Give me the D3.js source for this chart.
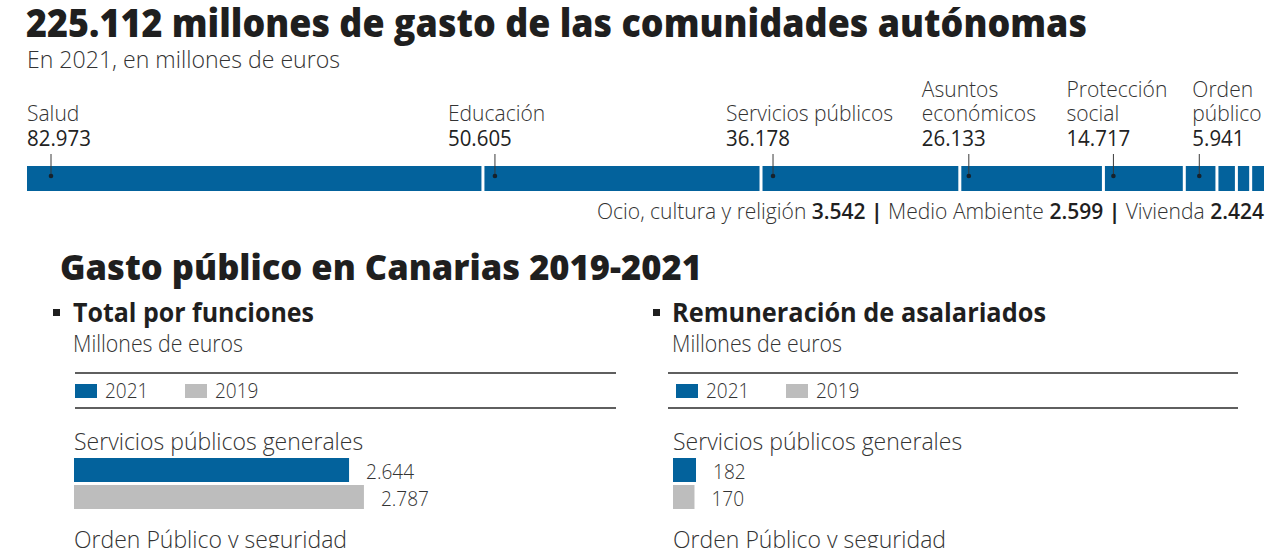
<!DOCTYPE html>
<html><head><meta charset="utf-8">
<script src="https://cdn.jsdelivr.net/npm/d3@7"></script>
<style>body{margin:0;background:#fff} text{font-family:"Open Sans",sans-serif;}</style>
</head><body>
<svg id="c" width="1280" height="548"></svg>
<script>
// ---------------- DATA ----------------
const mainTitle = "225.112 millones de gasto de las comunidades autónomas";
const mainSubtitle = "En 2021, en millones de euros";
const topCategories = ["Salud","Educación","Servicios públicos","Asuntos económicos","Protección social","Orden público","Ocio, cultura y religión","Medio Ambiente","Vivienda"];
const topValues = [82973, 50605, 36178, 26133, 14717, 5941, 3542, 2599, 2424];
const topLabelLines = [["Salud"],["Educación"],["Servicios públicos"],["Asuntos","económicos"],["Protección","social"],["Orden","público"]];
const sectionTitle = "Gasto público en Canarias 2019-2021";
const panelTitles = ["Total por funciones","Remuneración de asalariados"];
const panelUnits = "Millones de euros";
const years = ["2021","2019"];
const panelCategories = ["Servicios públicos generales","Orden Público y seguridad"];
const totalFunciones2021 = [2644];
const totalFunciones2019 = [2787];
const remuneracion2021 = [182];
const remuneracion2019 = [170];

// ---------------- STYLE / LAYOUT ----------------
const BLUE = "#03629c", GREY = "#bdbdbd", INK = "#1f1f1f", TXT = "#333333";
const loc = d3.formatLocale({decimal:",", thousands:".", grouping:[3], currency:["","€"]});
const fmt = loc.format(",d");
const svg = d3.select("#c");

function fitTo(sel, target){
  sel.attr("textLength", target).attr("lengthAdjust", "spacingAndGlyphs");
  return sel;
}
function condense(sel, k){
  const w = sel.node().getComputedTextLength();
  return fitTo(sel, w * k);
}

// Title + subtitle
fitTo(svg.append("text").attr("x",26).attr("y",37).attr("fill",INK)
  .style("font-weight",800).style("font-size","39px").text(mainTitle), 1061);
fitTo(svg.append("text").attr("x",27).attr("y",68).attr("fill",TXT)
  .style("font-weight",300).style("font-size","23px").text(mainSubtitle), 313);

// ---------------- TOP STACKED BAR ----------------
const total = d3.sum(topValues);
const barX0 = 27, barX1 = 1264, barY = 166, barH = 25;
const x = d3.scaleLinear().domain([0, total]).range([barX0, barX1]);
const starts = [0, ...d3.cumsum(topValues)].slice(0, topValues.length);
const segs = topValues.map((v,i)=>({name: topCategories[i], v, s: starts[i]}));
svg.append("g").selectAll("rect").data(segs).join("rect")
  .attr("x", d => x(d.s) + (d.s > 0 ? 1.5 : 0))
  .attr("y", barY).attr("height", barH)
  .attr("width", (d,i) => x(d.s + d.v) - x(d.s) - (d.s > 0 ? 1.5 : 0) - (i < segs.length-1 ? 1.5 : 0))
  .attr("fill", BLUE);

// annotations for the labelled segments
const dotOffset = {"Salud":24, "Educación":12, "Servicios públicos":12, "Asuntos económicos":9, "Protección social":10, "Orden público":15};
const annG = svg.append("g");
let prevRight = -Infinity;
topLabelLines.forEach((lines, i) => {
  const d = segs[i];
  const dx = x(d.s) + dotOffset[d.name];
  annG.append("line").attr("x1",dx).attr("x2",dx).attr("y1",154).attr("y2",176)
    .attr("stroke","#3a3a3a").attr("stroke-width",1);
  annG.append("circle").attr("cx",dx).attr("cy",176).attr("r",2.3).attr("fill","#16222c");
  const g = annG.append("g");
  const valT = condense(g.append("text").attr("y",145.5).attr("fill","#222")
    .style("font-weight",400).style("font-size","22px").text(fmt(d.v)), 0.93);
  const nameTs = lines.map((ln, j) => condense(g.append("text").attr("y", 145.5 - 24.5*(lines.length - j)).attr("fill",TXT)
    .style("font-weight",300).style("font-size","22.5px").text(ln), 0.935));
  const w = d3.max([valT, ...nameTs], t => +t.attr("textLength"));
  const lx = Math.max(barX0, Math.min(Math.max(dx - 47, prevRight + 25), barX1 - w));
  g.selectAll("text").attr("x", lx);
  prevRight = lx + w;
});

// footnote with the small categories
const foot = svg.append("text").attr("x", barX1).attr("y", 219).attr("text-anchor","end")
  .attr("fill",TXT).style("font-size","21.5px");
segs.slice(topLabelLines.length).forEach((d,i,arr) => {
  foot.append("tspan").style("font-weight",300).text(d.name + " ");
  foot.append("tspan").style("font-weight",600).attr("fill",INK).text(fmt(d.v));
  if (i < arr.length-1) foot.append("tspan").style("font-weight",700).attr("fill",INK).text(" | ");
});
fitTo(foot, 667);

// ---------------- CANARIAS PANELS ----------------
fitTo(svg.append("text").attr("x",60).attr("y",280).attr("fill",INK)
  .style("font-weight",800).style("font-size","36px").text(sectionTitle), 642);

const panels = [
  {title: panelTitles[0], v21: totalFunciones2021, v19: totalFunciones2019, bx: 53, tx: 73, lx0: 75, lx1: 616, lgx: 75, x0: 74, max: 5210, tw: 241},
  {title: panelTitles[1], v21: remuneracion2021, v19: remuneracion2019, bx: 653, tx: 672, lx0: 668, lx1: 1238, lgx: 676, x0: 673, max: 4470, tw: 374}
];
panels.forEach(p => {
  const g = svg.append("g");
  g.append("rect").attr("x",p.bx).attr("y",309).attr("width",7).attr("height",7).attr("fill",INK);
  fitTo(g.append("text").attr("x",p.tx).attr("y",322).attr("fill",INK)
    .style("font-weight",700).style("font-size","27px").text(p.title), p.tw);
  fitTo(g.append("text").attr("x",p.tx).attr("y",352).attr("fill",TXT)
    .style("font-weight",300).style("font-size","23px").text(panelUnits), 170);
  // legend
  [373, 408].forEach(y => g.append("line").attr("x1",p.lx0).attr("x2",p.lx1).attr("y1",y).attr("y2",y)
    .attr("stroke","#2a2a2a").attr("stroke-width",1.6));
  const col = d3.scaleOrdinal().domain(years).range([BLUE, GREY]);
  years.forEach((yr, i) => {
    const lx = p.lgx + i*110;
    g.append("rect").attr("x",lx).attr("y",384).attr("width",22).attr("height",14).attr("fill",col(yr));
    condense(g.append("text").attr("x",lx+30).attr("y",398).attr("fill",TXT)
      .style("font-weight",300).style("font-size","20px").text(yr), 0.95);
  });
  // bars
  const xs = d3.scaleLinear().domain([0, p.max]).range([p.x0, p.lx1]);
  const cats = panelCategories.map((c,i) => ({c, v21: p.v21[i], v19: p.v19[i]}));
  cats.forEach((d, i) => {
    const y0 = 450 + i*98;
    condense(g.append("text").attr("x", p.x0).attr("y", y0).attr("fill",TXT)
      .style("font-weight",300).style("font-size","23px").text(d.c), 1.0);
    [[d.v21, BLUE], [d.v19, GREY]].forEach(([v, c], j) => {
      if (v === undefined) return;
      const by = y0 + 8 + j*27;
      g.append("rect").attr("x", xs(0)).attr("y", by).attr("width", xs(v) - xs(0)).attr("height", 24).attr("fill", c);
      condense(g.append("text").attr("x", xs(v) + 17).attr("y", by + 21).attr("fill",TXT)
        .style("font-weight",300).style("font-size","20.5px").text(fmt(v)), 0.93);
    });
  });
});
</script>
</body></html>
